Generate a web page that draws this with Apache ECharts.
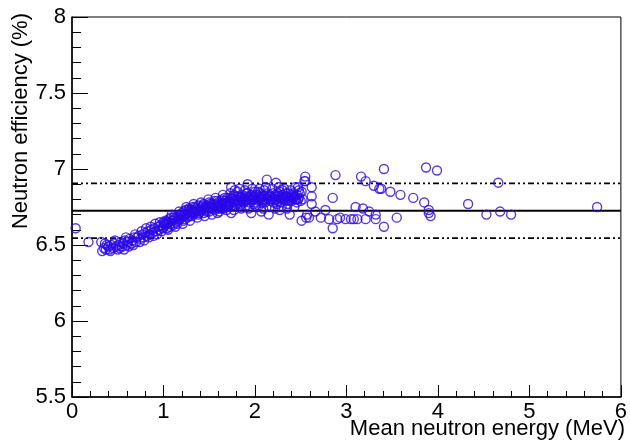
<!DOCTYPE html>
<html>
<head>
<meta charset="utf-8">
<title>Neutron efficiency</title>
<script src="https://cdn.jsdelivr.net/npm/echarts@6/dist/echarts.min.js"></script>
<style>
    html, body { margin: 0; padding: 0; background: #fff; }
    #container { width: 630px; height: 440px; }
</style>
</head>
<body>
<div id="container"></div>
<script>
    // points, [energy MeV, efficiency %]
    var lowBand = [
        [0.04,6.61],[0.18,6.52],[0.32,6.52],[0.33,6.46],[0.35,6.48],[0.37,6.47],[0.38,6.50],[0.40,6.49],
        [0.41,6.47],[0.43,6.50],[0.45,6.48],[0.46,6.51],[0.48,6.49],[0.50,6.47],[0.51,6.50],[0.53,6.52],
        [0.55,6.49],[0.56,6.51],[0.58,6.53],[0.60,6.50],[0.61,6.52],[0.63,6.54],[0.65,6.51],[0.66,6.53],
        [0.68,6.55],[0.70,6.52],[0.71,6.55],[0.73,6.56],[0.75,6.54],[0.77,6.57],[0.78,6.55],[0.80,6.58],
        [0.82,6.56],[0.83,6.59],[0.85,6.57],[0.87,6.60],[0.88,6.58],[0.90,6.61],[0.92,6.59],[0.94,6.62],
        [0.95,6.60],[0.97,6.63],[0.99,6.61],
        [0.36,6.51],[0.42,6.46],[0.47,6.53],[0.52,6.48],[0.57,6.47],[0.59,6.55],[0.62,6.49],[0.67,6.50],
        [0.69,6.57],[0.74,6.52],[0.76,6.59],[0.79,6.53],[0.81,6.61],[0.84,6.55],[0.86,6.62],[0.89,6.56],
        [0.91,6.64],[0.93,6.57],[0.96,6.65],[0.98,6.59]
    ];
    var midBand = [
        [1.00,6.62],[1.00,6.65],[1.01,6.64],[1.02,6.63],[1.02,6.66],[1.04,6.64],[1.04,6.61],[1.06,6.65],
        [1.06,6.67],[1.08,6.64],[1.08,6.68],[1.10,6.66],[1.10,6.63],[1.12,6.67],[1.12,6.69],[1.14,6.65],
        [1.14,6.68],[1.16,6.69],[1.16,6.66],[1.18,6.70],[1.18,6.67],[1.20,6.68],[1.20,6.71],[1.22,6.69],
        [1.22,6.72],[1.22,6.66],[1.24,6.70],[1.24,6.73],[1.26,6.71],[1.26,6.68],[1.28,6.72],[1.28,6.69],
        [1.28,6.74],[1.30,6.71],[1.30,6.73],[1.32,6.72],[1.32,6.70],[1.32,6.75],[1.34,6.73],[1.34,6.71],
        [1.36,6.74],[1.36,6.72],[1.38,6.73],[1.38,6.76],[1.38,6.70],[1.40,6.74],[1.40,6.72],[1.42,6.75],
        [1.42,6.73],[1.44,6.74],[1.44,6.77],[1.44,6.71],[1.46,6.75],[1.46,6.73],[1.48,6.76],[1.48,6.74],
        [1.50,6.75],[1.50,6.78],[1.50,6.72],[1.52,6.76],[1.52,6.74],[1.54,6.77],[1.54,6.75],[1.56,6.76],
        [1.56,6.73],[1.56,6.79],[1.58,6.77],[1.58,6.75],
        [1.05,6.60],[1.09,6.70],[1.13,6.62],[1.17,6.72],[1.21,6.64],[1.25,6.75],[1.29,6.66],[1.33,6.77],
        [1.37,6.68],[1.41,6.78],[1.45,6.69],[1.49,6.80],[1.53,6.70],[1.57,6.81],[1.59,6.71]
    ];
    var denseCore = [
        [1.03,6.65],[1.07,6.62],[1.11,6.68],[1.15,6.64],[1.19,6.69],[1.23,6.67],[1.27,6.73],[1.31,6.69],
        [1.35,6.75],[1.39,6.71],[1.43,6.76],[1.47,6.72],[1.51,6.77],[1.55,6.74],[1.59,6.79],[1.63,6.74],
        [1.67,6.81],[1.71,6.76],[1.75,6.80],[1.79,6.82],[1.83,6.77],[1.87,6.79],[1.91,6.84],[1.95,6.80],
        [1.99,6.77],[2.03,6.85],[2.07,6.82],[2.11,6.78],[2.14,6.84],[2.18,6.80],[2.21,6.82],[2.24,6.77],
        [2.27,6.85],[2.31,6.81],[2.34,6.84],[2.37,6.79],[2.41,6.83],[2.45,6.80],[2.49,6.84],[1.65,6.79],
        [1.69,6.77],[1.73,6.81],[1.77,6.83],[1.81,6.79],[1.85,6.82],[1.89,6.80],[1.93,6.82],[1.97,6.81],
        [2.01,6.83],[2.05,6.80],[2.09,6.83],[2.12,6.80],[2.16,6.82],[2.19,6.80],[2.22,6.83],[2.26,6.81],
        [2.29,6.82],[2.32,6.80],[2.35,6.82],[2.39,6.81],[2.43,6.82],[2.47,6.80]
    ];
    var highBand = [
        [1.60,6.76],[1.60,6.78],[1.60,6.74],[1.62,6.77],[1.62,6.75],[1.64,6.78],[1.64,6.76],[1.64,6.80],
        [1.66,6.77],[1.66,6.74],[1.68,6.79],[1.68,6.76],[1.70,6.78],[1.70,6.81],[1.70,6.75],[1.72,6.77],
        [1.72,6.79],[1.74,6.80],[1.74,6.76],[1.74,6.88],[1.74,6.71],[1.76,6.78],[1.76,6.82],[1.78,6.79],
        [1.78,6.76],[1.78,6.86],[1.80,6.80],[1.80,6.77],[1.82,6.78],[1.82,6.82],[1.84,6.81],[1.84,6.76],
        [1.84,6.79],[1.86,6.80],[1.86,6.83],[1.88,6.78],[1.88,6.81],[1.90,6.82],[1.90,6.79],[1.90,6.76],
        [1.92,6.80],[1.92,6.90],[1.92,6.84],[1.94,6.81],[1.94,6.78],[1.96,6.79],[1.96,6.83],[1.96,6.71],
        [1.98,6.82],[1.98,6.80],[2.00,6.78],[2.00,6.81],[2.00,6.85],[2.02,6.80],[2.02,6.83],[2.04,6.79],
        [2.04,6.82],[2.04,6.76],[2.06,6.81],[2.06,6.84],[2.08,6.80],[2.08,6.78],[2.10,6.82],[2.10,6.79],
        [2.10,6.86],[2.13,6.93],[2.13,6.81],[2.15,6.80],[2.15,6.83],[2.15,6.70],[2.17,6.79],[2.17,6.82],
        [2.20,6.81],[2.20,6.84],[2.20,6.78],[2.23,6.91],[2.23,6.80],[2.25,6.82],[2.25,6.79],[2.25,6.84],
        [2.28,6.81],[2.28,6.78],[2.30,6.83],[2.30,6.80],[2.30,6.86],[2.33,6.79],[2.33,6.82],[2.36,6.81],
        [2.36,6.84],[2.36,6.77],[2.38,6.70],[2.38,6.80],[2.40,6.82],[2.40,6.79],[2.42,6.84],[2.42,6.81],
        [2.44,6.88],[2.44,6.80],[2.46,6.83],[2.46,6.78],[2.48,6.81],[2.48,6.86],
        [1.61,6.72],[1.65,6.83],[1.69,6.73],[1.73,6.84],[1.77,6.73],[1.81,6.85],[1.85,6.74],[1.89,6.86],
        [1.93,6.74],[1.97,6.87],[2.01,6.75],[2.05,6.87],[2.09,6.74],[2.12,6.88],[2.16,6.75],[2.19,6.87],
        [2.22,6.74],[2.26,6.88],[2.29,6.75],[2.32,6.87],[2.35,6.74],[2.39,6.86],[2.43,6.75],[2.47,6.88],
        [1.83,6.87],[2.07,6.72],[2.27,6.73]
    ];
    var sparse = [
        [2.50,6.79],[2.51,6.85],[2.51,6.66],[2.52,6.80],[2.54,6.92],[2.55,6.95],[2.55,6.92],[2.56,6.68],
        [2.57,6.70],[2.59,6.68],[2.62,6.88],[2.62,6.82],[2.62,6.77],[2.66,6.72],[2.72,6.68],[2.77,6.73],
        [2.81,6.67],[2.85,6.81],[2.85,6.61],[2.88,6.96],[2.90,6.67],[2.93,6.68],[2.99,6.67],[3.05,6.67],
        [3.08,6.67],[3.10,6.75],[3.12,6.67],[3.16,6.95],[3.18,6.74],[3.21,6.92],[3.21,6.67],[3.25,6.72],
        [3.30,6.89],[3.32,6.70],[3.32,6.67],[3.36,6.87],[3.38,6.87],[3.41,7.00],[3.41,6.62],[3.48,6.85],
        [3.55,6.68],[3.59,6.83],[3.73,6.81],[3.85,6.78],[3.87,7.01],[3.90,6.73],[3.90,6.71],[3.92,6.69],
        [3.99,6.99],[4.33,6.77],[4.53,6.70],[4.66,6.91],[4.68,6.72],[4.80,6.70],[5.74,6.75]
    ];
    var meanEff = 6.725;
    var upperEff = 6.905;
    var lowerEff = 6.545;
    var xRange = [0, 6];
    var yRange = [5.5, 8];

    var points = lowBand.concat(midBand, denseCore, highBand, sparse);
    var font = 'Liberation Sans, Arial, sans-serif';
    var dashDot = [6, 3, 2, 3, 2, 3];

    function hLine(v, type, width) {
        return {
            type: 'line',
            data: [[xRange[0], v], [xRange[1], v]],
            symbol: 'none',
            silent: true,
            lineStyle: { color: '#000', width: width, type: type },
            z: 1
        };
    }

    var myChart = echarts.init(document.getElementById('container'));
    var option = {
        animation: false,
        backgroundColor: '#fff',
        grid: {
            left: 72, right: 6, top: 17, bottom: 43,
            show: true, borderColor: '#000', borderWidth: 1
        },
        xAxis: {
            type: 'value',
            min: xRange[0], max: xRange[1], interval: 1,
            axisLine: { lineStyle: { color: '#000', width: 1.5 } },
            axisTick: { inside: true, length: 12, lineStyle: { color: '#000' } },
            minorTick: { show: true, splitNumber: 5, length: 6, lineStyle: { color: '#000' } },
            splitLine: { show: false },
            axisLabel: { color: '#000', fontSize: 22, fontFamily: font, margin: 4 }
        },
        yAxis: {
            type: 'value',
            min: yRange[0], max: yRange[1], interval: 0.5,
            axisLine: { lineStyle: { color: '#000', width: 1.5 } },
            axisTick: { inside: true, length: 16, lineStyle: { color: '#000' } },
            minorTick: { show: true, splitNumber: 5, length: 9, lineStyle: { color: '#000' } },
            splitLine: { show: false },
            axisLabel: { color: '#000', fontSize: 22, fontFamily: font, margin: 6 }
        },
        graphic: [
            {
                type: 'text', x: 21, y: 13, rotation: Math.PI / 2,
                style: {
                    text: 'Neutron efficiency (%)', fill: '#000', fontSize: 22, fontFamily: font,
                    align: 'right', verticalAlign: 'middle'
                }
            },
            {
                type: 'text', x: 625, y: 429,
                style: {
                    text: 'Mean neutron energy (MeV)', fill: '#000', fontSize: 22, fontFamily: font,
                    align: 'right', verticalAlign: 'middle'
                }
            }
        ],
        series: [
            hLine(meanEff, 'solid', 2),
            hLine(upperEff, dashDot, 1.8),
            hLine(lowerEff, dashDot, 1.8),
            {
                type: 'scatter',
                data: points,
                symbol: 'circle',
                symbolSize: 9,
                itemStyle: { color: 'rgba(0,0,0,0)', borderColor: '#2a08e8', borderWidth: 1.4 },
                z: 3
            }
        ]
    };
    myChart.setOption(option, true);
</script>
</body>
</html>
